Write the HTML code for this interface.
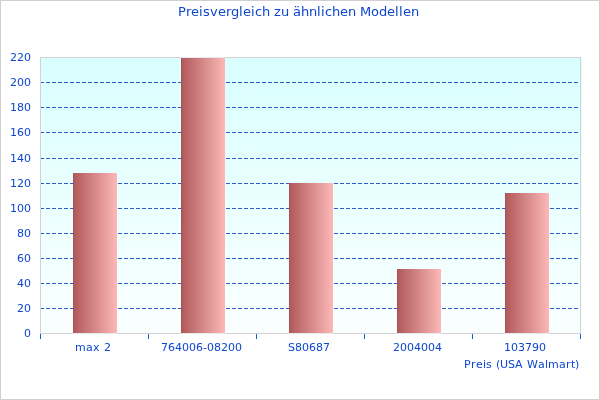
<!DOCTYPE html>
<html><head><meta charset="utf-8"><title>Preisvergleich</title>
<style>
html,body{margin:0;padding:0;background:#fff;}
body{width:600px;height:400px;overflow:hidden;position:relative;}
svg{position:absolute;left:0;top:0;display:block;will-change:transform;}
text{font-family:"DejaVu Sans","Liberation Sans",sans-serif;font-size:11px;fill:#0d46d0;}
</style></head><body>
<svg width="600" height="400" viewBox="0 0 600 400">
<defs>
<linearGradient id="bg" x1="0" y1="0" x2="0" y2="1"><stop offset="0" stop-color="#d9ffff"/><stop offset="1" stop-color="#fafffe"/></linearGradient>
<linearGradient id="bar" x1="0" y1="0" x2="1" y2="0"><stop offset="0" stop-color="#b0585a"/><stop offset="1" stop-color="#fcb8b7"/></linearGradient>
</defs>
<rect x="0" y="0" width="600" height="400" fill="#fff"/>
<g shape-rendering="crispEdges">
<rect x="0.5" y="0.5" width="599" height="399" fill="none" stroke="#d0d0d0"/>
<rect x="41" y="57" width="541" height="277" fill="url(#bg)"/>
<line x1="40" y1="82.5" x2="580" y2="82.5" stroke="#2c5ccc" stroke-dasharray="4 2"/>
<line x1="40" y1="107.5" x2="580" y2="107.5" stroke="#2c5ccc" stroke-dasharray="4 2"/>
<line x1="40" y1="132.5" x2="580" y2="132.5" stroke="#2c5ccc" stroke-dasharray="4 2"/>
<line x1="40" y1="158.5" x2="580" y2="158.5" stroke="#2c5ccc" stroke-dasharray="4 2"/>
<line x1="40" y1="183.5" x2="580" y2="183.5" stroke="#2c5ccc" stroke-dasharray="4 2"/>
<line x1="40" y1="208.5" x2="580" y2="208.5" stroke="#2c5ccc" stroke-dasharray="4 2"/>
<line x1="40" y1="233.5" x2="580" y2="233.5" stroke="#2c5ccc" stroke-dasharray="4 2"/>
<line x1="40" y1="258.5" x2="580" y2="258.5" stroke="#2c5ccc" stroke-dasharray="4 2"/>
<line x1="40" y1="283.5" x2="580" y2="283.5" stroke="#2c5ccc" stroke-dasharray="4 2"/>
<line x1="40" y1="308.5" x2="580" y2="308.5" stroke="#2c5ccc" stroke-dasharray="4 2"/>
<rect x="40.5" y="57.5" width="540" height="276" fill="none" stroke="#d2d2d2"/>
<rect x="73" y="173" width="44" height="160" fill="url(#bar)"/>
<rect x="73" y="173" width="1" height="160" fill="#ac5254"/>
<rect x="73" y="333" width="44" height="1" fill="#e6ebeb"/>
<rect x="181" y="58" width="44" height="275" fill="url(#bar)"/>
<rect x="181" y="58" width="1" height="275" fill="#ac5254"/>
<rect x="181" y="333" width="44" height="1" fill="#e6ebeb"/>
<rect x="181" y="57" width="44" height="1" fill="#e6ebeb"/>
<rect x="289" y="183" width="44" height="150" fill="url(#bar)"/>
<rect x="289" y="183" width="1" height="150" fill="#ac5254"/>
<rect x="289" y="333" width="44" height="1" fill="#e6ebeb"/>
<rect x="397" y="269" width="44" height="64" fill="url(#bar)"/>
<rect x="397" y="269" width="1" height="64" fill="#ac5254"/>
<rect x="397" y="333" width="44" height="1" fill="#e6ebeb"/>
<rect x="505" y="193" width="44" height="140" fill="url(#bar)"/>
<rect x="505" y="193" width="1" height="140" fill="#ac5254"/>
<rect x="505" y="333" width="44" height="1" fill="#e6ebeb"/>
<rect x="40" y="334" width="1" height="5" fill="#1060d0"/>
<rect x="148" y="334" width="1" height="5" fill="#1060d0"/>
<rect x="256" y="334" width="1" height="5" fill="#1060d0"/>
<rect x="364" y="334" width="1" height="5" fill="#1060d0"/>
<rect x="472" y="334" width="1" height="5" fill="#1060d0"/>
<rect x="580" y="334" width="1" height="5" fill="#1060d0"/>
</g>
<text x="10 17 24" y="61">220</text>
<text x="10 17 24" y="86">200</text>
<text x="10 17 24" y="111">180</text>
<text x="10 17 24" y="136">160</text>
<text x="10 17 24" y="162">140</text>
<text x="10 17 24" y="187">120</text>
<text x="10 17 24" y="212">100</text>
<text x="17 24" y="237">80</text>
<text x="17 24" y="262">60</text>
<text x="17 24" y="287">40</text>
<text x="17 24" y="312">20</text>
<text x="24" y="337">0</text>
<text x="75 86 93 100 104" y="351">max 2</text>
<text x="161 168 175 182 189 196 203 207 214 221 228 235" y="351">764006-08200</text>
<text x="288 295 302 309 316 323" y="351">S80687</text>
<text x="393 400 407 414 421 428 435" y="351">2004004</text>
<text x="504 511 518 525 532 539" y="351">103790</text>
<text x="464 471 476 483 486 492 496 500 508 515 523 527 538 545 548 559 566 571 575" y="368">Preis (USA Walmart)</text>
<text x="178 186 191 199 203 210 218 226 231 239 243 251 255 262 270 274 281 289 293 301 309 317 321 325 332 340 348 356 360 371 379 387 395 399 403 411" y="16" style="font-size:13px">Preisvergleich zu ähnlichen Modellen</text>
</svg>
</body></html>
